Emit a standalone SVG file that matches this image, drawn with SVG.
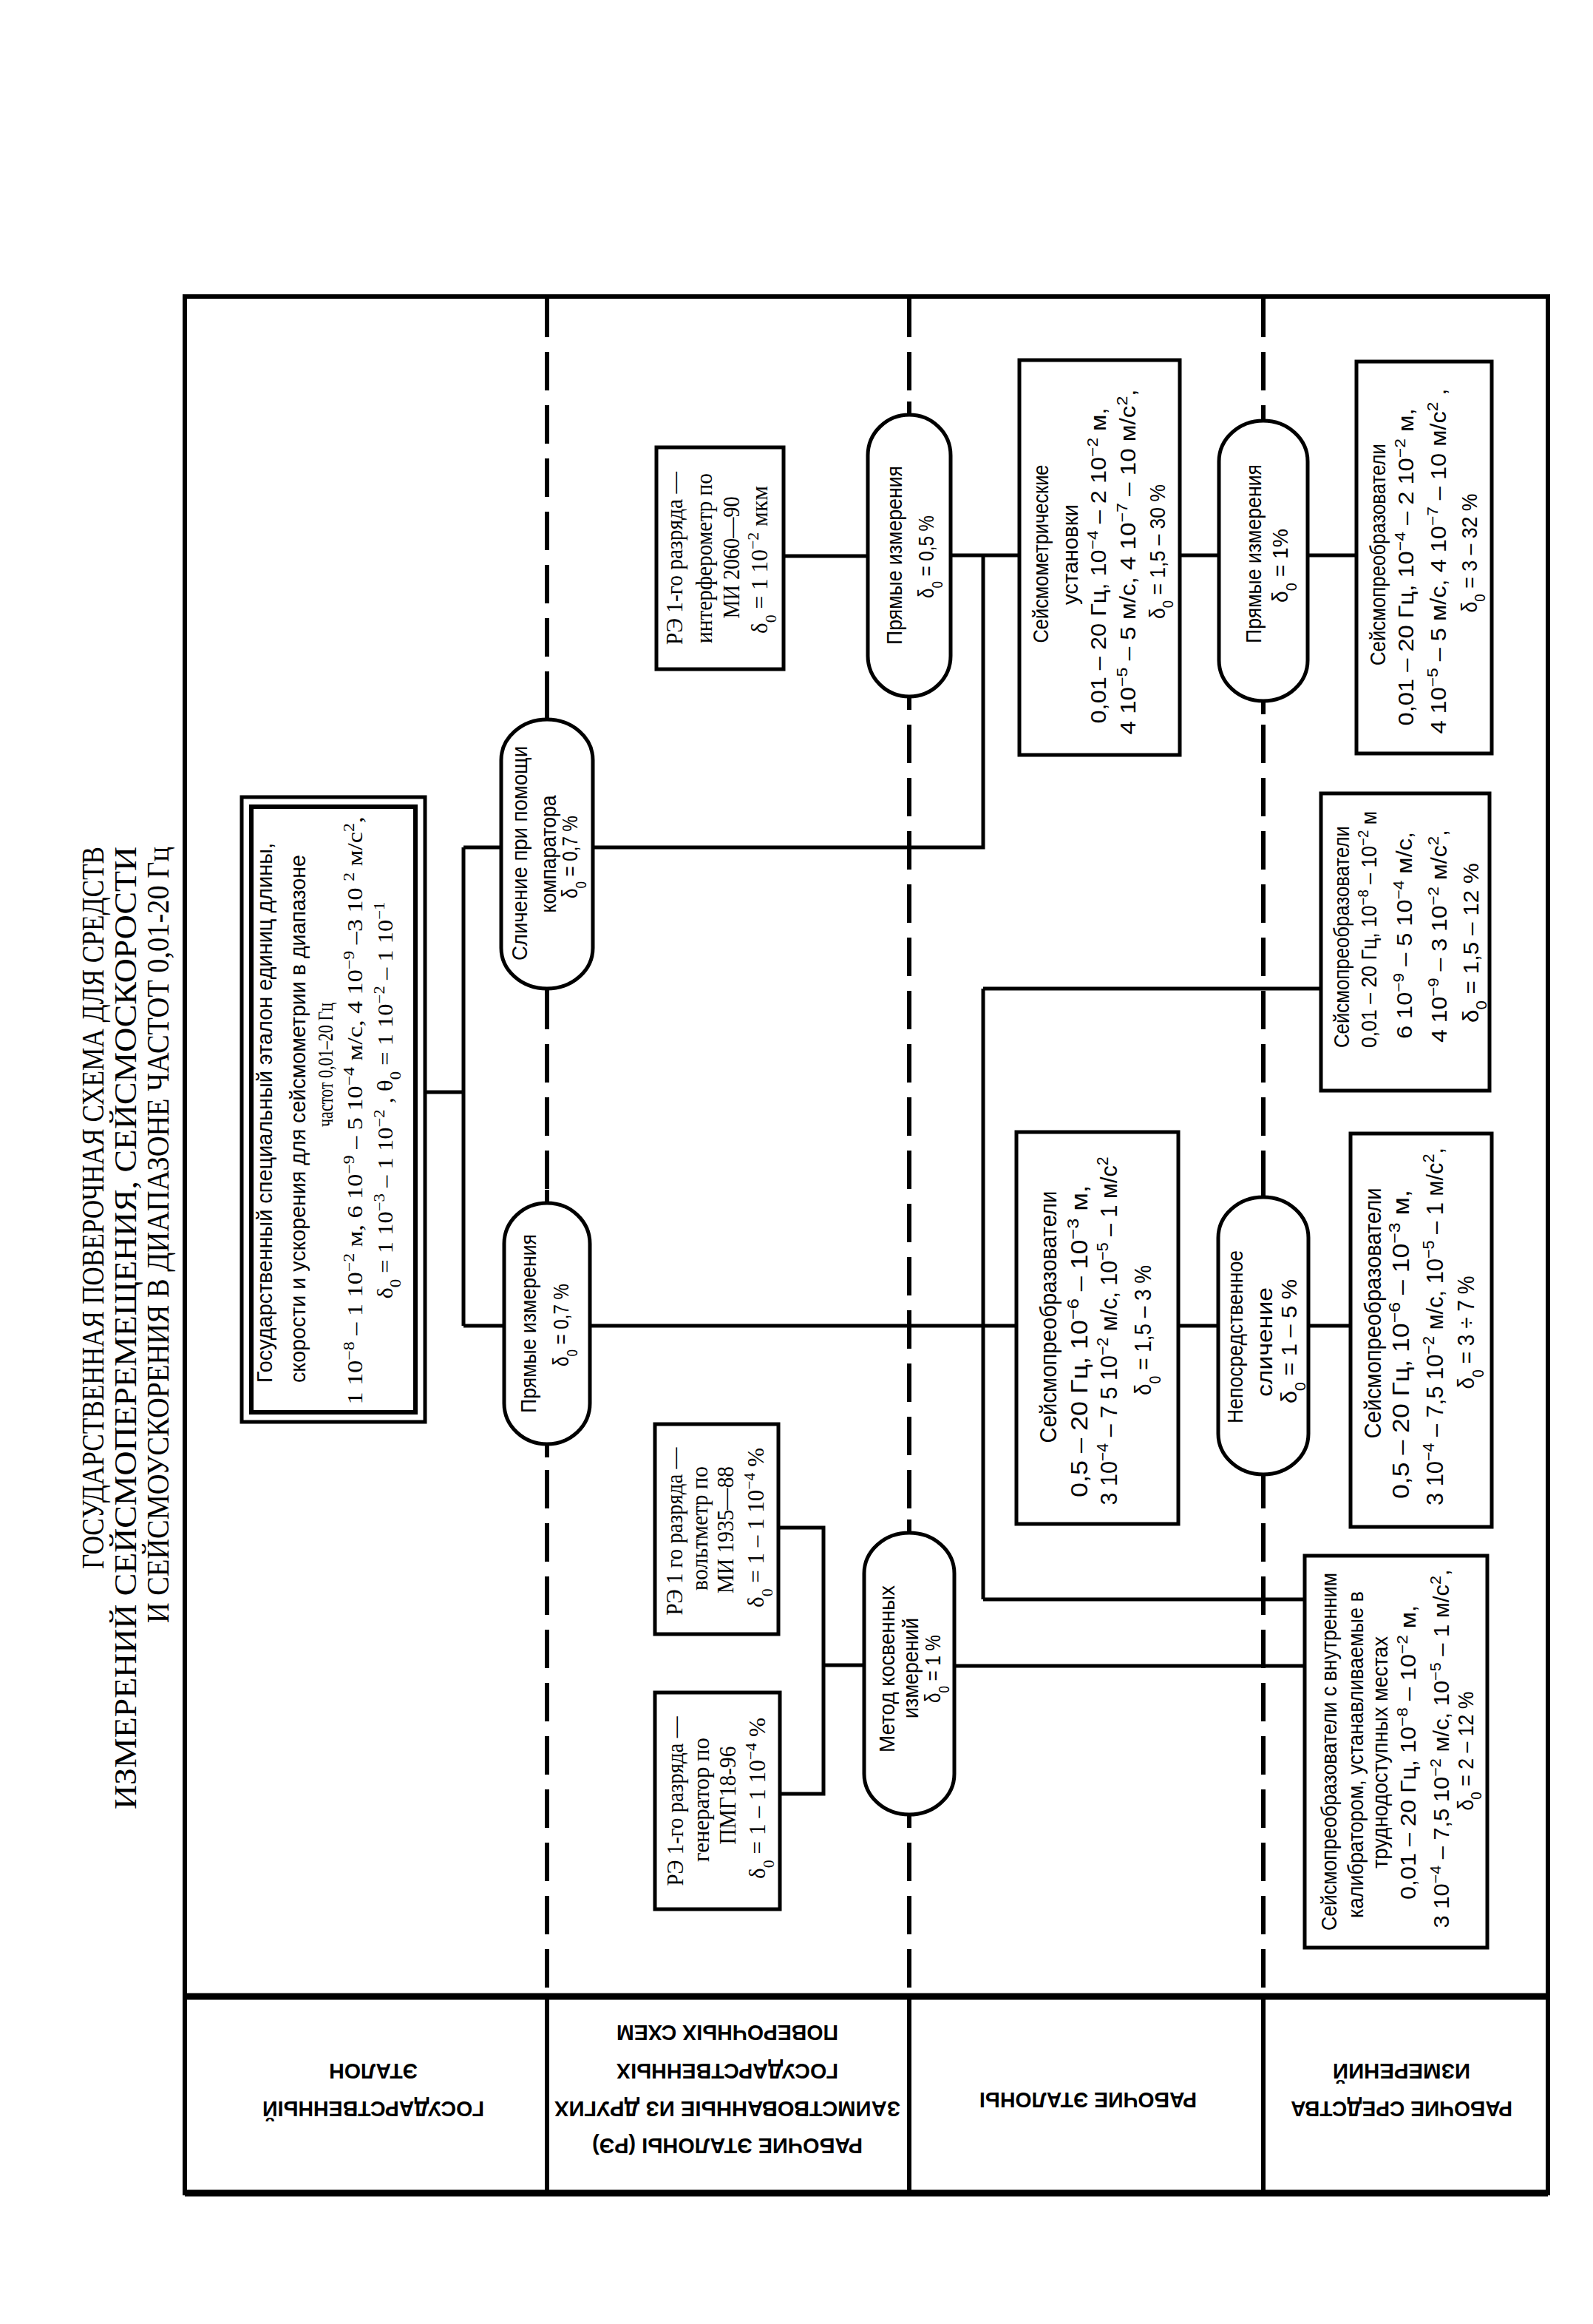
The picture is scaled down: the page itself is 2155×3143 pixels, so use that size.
<svg xmlns="http://www.w3.org/2000/svg" width="2155" height="3143" viewBox="0 0 2155 3143">
<style>
.t{font-family:"Liberation Sans",Arial,sans-serif;font-size:29px;text-anchor:middle;fill:#000}
.p{font-size:30px}
.L{font-size:31px}
.sf{font-family:"Liberation Serif","Times New Roman",serif;font-size:31px}
.ti{font-family:"Liberation Serif","Times New Roman",serif;font-size:42px;fill:#000}
.lb{font-family:"Liberation Sans",Arial,sans-serif;font-size:29px;font-weight:bold;text-anchor:middle;fill:#000}
.s{baseline-shift:super;font-size:70%}
.b{baseline-shift:sub;font-size:70%}
.box{fill:#fff;stroke:#000;stroke-width:5}
.pill{fill:#fff;stroke:#000;stroke-width:5}
.con{fill:none;stroke:#000;stroke-width:5}
.dash{fill:none;stroke:#000;stroke-width:6;stroke-dasharray:52 20}
.stub{fill:none;stroke:#000;stroke-width:6}
</style>
<rect width="2155" height="3143" fill="#fff"/>
<g id="title">
<text class="ti" transform="translate(140,2122) rotate(-90)" textLength="977" lengthAdjust="spacingAndGlyphs">ГОСУДАРСТВЕННАЯ ПОВЕРОЧНАЯ СХЕМА ДЛЯ СРЕДСТВ</text>
<text class="ti" transform="translate(184,2447) rotate(-90)" textLength="1302" lengthAdjust="spacingAndGlyphs">ИЗМЕРЕНИЙ СЕЙСМОПЕРЕМЕЩЕНИЯ, СЕЙСМОСКОРОСТИ</text>
<text class="ti" transform="translate(228,2195) rotate(-90)" textLength="1050" lengthAdjust="spacingAndGlyphs">И СЕЙСМОУСКОРЕНИЯ В ДИАПАЗОНЕ ЧАСТОТ 0,01-20 Гц</text>
</g>
<g id="frame">
<rect x="250" y="401" width="1844" height="2565" fill="none" stroke="#000" stroke-width="6"/>
<line x1="250" y1="2700" x2="2094" y2="2700" stroke="#000" stroke-width="9"/>
<line x1="250" y1="2966" x2="2094" y2="2966" stroke="#000" stroke-width="9"/>
<line x1="740" y1="2700" x2="740" y2="2966" stroke="#000" stroke-width="6"/>
<line x1="1230" y1="2700" x2="1230" y2="2966" stroke="#000" stroke-width="6"/>
<line x1="1709" y1="2700" x2="1709" y2="2966" stroke="#000" stroke-width="6"/>
</g>
<g id="band-labels">
<text class="lb" transform="translate(505,2842) rotate(180)" textLength="300" lengthAdjust="spacingAndGlyphs">ГОСУДАРСТВЕННЫЙ</text>
<text class="lb" transform="translate(505,2791) rotate(180)" textLength="120" lengthAdjust="spacingAndGlyphs">ЭТАЛОН</text>
<text class="lb" transform="translate(984,2892) rotate(180)" textLength="366" lengthAdjust="spacingAndGlyphs">РАБОЧИЕ ЭТАЛОНЫ (РЭ)</text>
<text class="lb" transform="translate(984,2842) rotate(180)" textLength="468" lengthAdjust="spacingAndGlyphs">ЗАИМСТВОВАННЫЕ ИЗ ДРУГИХ</text>
<text class="lb" transform="translate(984,2791) rotate(180)" textLength="300" lengthAdjust="spacingAndGlyphs">ГОСУДАРСТВЕННЫХ</text>
<text class="lb" transform="translate(984,2739) rotate(180)" textLength="300" lengthAdjust="spacingAndGlyphs">ПОВЕРОЧНЫХ СХЕМ</text>
<text class="lb" transform="translate(1472,2830) rotate(180)" textLength="294" lengthAdjust="spacingAndGlyphs">РАБОЧИЕ ЭТАЛОНЫ</text>
<text class="lb" transform="translate(1896,2842) rotate(180)" textLength="300" lengthAdjust="spacingAndGlyphs">РАБОЧИЕ СРЕДСТВА</text>
<text class="lb" transform="translate(1896,2791) rotate(180)" textLength="186" lengthAdjust="spacingAndGlyphs">ИЗМЕРЕНИЙ</text>
</g>
<g id="level-dividers">
<line class="dash" x1="740" y1="404" x2="740" y2="2696"/>
<line class="dash" x1="1230" y1="404" x2="1230" y2="2696"/>
<line class="dash" x1="1709" y1="404" x2="1709" y2="2696"/>
</g>
<g id="connectors">
<path class="con" d="M575,1477 H627 M627,1146 V1793 M627,1146 H678 M627,1793 H682"/>
<path class="con" d="M802,1146 H1330 V751"/>
<path class="con" d="M798,1793 H1375"/>
<path class="con" d="M1330,1337 V2163 M1330,1337 H1787 M1330,2163 H1765"/>
<path class="con" d="M1060,752 H1174 M1286,751 H1379 M1596,751 H1649 M1769,751 H1835"/>
<path class="con" d="M1594,1793 H1648 M1770,1793 H1827"/>
<path class="con" d="M1053,2066 H1114 V2426 H1055 M1114,2252 H1169"/>
<path class="con" d="M1291,2253 H1765"/>
</g>
<g id="state-standard">
<rect x="327" y="1078" width="248" height="845" fill="#fff" stroke="#000" stroke-width="5"/>
<rect x="340" y="1091" width="222" height="819" fill="none" stroke="#000" stroke-width="6"/>
<text class="t" transform="translate(368,1505) rotate(-90)" textLength="730" lengthAdjust="spacingAndGlyphs">Государственный специальный эталон единиц длины,</text>
<text class="t" transform="translate(413,1513) rotate(-90)" textLength="714" lengthAdjust="spacingAndGlyphs">скорости и ускорения для сейсмометрии в диапазоне</text>
<text class="t sf" style="font-size:29px" transform="translate(450,1440) rotate(-90)" textLength="168" lengthAdjust="spacingAndGlyphs">частот 0,01–20 Гц</text>
<text class="t sf" style="font-size:29px" transform="translate(490,1502) rotate(-90)" textLength="795" lengthAdjust="spacingAndGlyphs">1 10<tspan class="s">−8</tspan> – 1 10<tspan class="s">−2</tspan> м, 6 10<tspan class="s">−9</tspan> – 5 10<tspan class="s">−4</tspan> м/с, 4 10<tspan class="s">−9</tspan> –3 10 <tspan class="s">2</tspan> м/с<tspan class="s">2</tspan>,</text>
<text class="t sf" style="font-size:29px" transform="translate(531,1488) rotate(-90)" textLength="537" lengthAdjust="spacingAndGlyphs">δ<tspan class="b">0</tspan> = 1 10<tspan class="s">−3</tspan> – 1 10<tspan class="s">−2</tspan> , θ<tspan class="b">0</tspan> = 1 10<tspan class="s">−2</tspan> – 1 10<tspan class="s">−1</tspan></text>
</g>
<g id="pill-slichenie">
<rect class="pill" x="678" y="973" width="124" height="364" rx="62" ry="55"/>
<line class="stub" x1="740" y1="955" x2="740" y2="973"/><line class="stub" x1="740" y1="1337" x2="740" y2="1355"/>
<text class="t p" transform="translate(713,1154) rotate(-90)" textLength="290" lengthAdjust="spacingAndGlyphs">Сличение при помощи</text>
<text class="t p" transform="translate(752,1155) rotate(-90)" textLength="159" lengthAdjust="spacingAndGlyphs">компаратора</text>
<text class="t p" transform="translate(781,1159) rotate(-90)" textLength="112" lengthAdjust="spacingAndGlyphs">δ<tspan class="b">0</tspan> = 0,7 %</text>
</g>
<g id="pill-pryamye-07">
<rect class="pill" x="682" y="1627" width="116" height="326" rx="58" ry="55"/>
<line class="stub" x1="740" y1="1609" x2="740" y2="1627"/><line class="stub" x1="740" y1="1953" x2="740" y2="1971"/>
<text class="t p" transform="translate(725,1790) rotate(-90)" textLength="242" lengthAdjust="spacingAndGlyphs">Прямые измерения</text>
<text class="t p" transform="translate(769,1792) rotate(-90)" textLength="112" lengthAdjust="spacingAndGlyphs">δ<tspan class="b">0</tspan> = 0,7 %</text>
</g>
<g id="re-interferometer">
<rect class="box" x="888" y="605" width="172" height="300"/>
<text class="t sf" transform="translate(923,755) rotate(-90)" textLength="234" lengthAdjust="spacingAndGlyphs">РЭ 1-го разряда —</text>
<text class="t sf" transform="translate(963,755) rotate(-90)" textLength="230" lengthAdjust="spacingAndGlyphs">интерферометр по</text>
<text class="t sf" transform="translate(1000,754) rotate(-90)" textLength="165" lengthAdjust="spacingAndGlyphs">МИ 2060—90</text>
<text class="t sf" transform="translate(1038,757) rotate(-90)" textLength="200" lengthAdjust="spacingAndGlyphs">δ<tspan class="b">0</tspan> = 1 10<tspan class="s">−2</tspan> мкм</text>
</g>
<g id="re-voltmeter">
<rect class="box" x="886" y="1926" width="167" height="284"/>
<text class="t sf" transform="translate(923,2071) rotate(-90)" textLength="227" lengthAdjust="spacingAndGlyphs">РЭ 1 го разряда —</text>
<text class="t sf" transform="translate(957,2067) rotate(-90)" textLength="168" lengthAdjust="spacingAndGlyphs">вольтметр по</text>
<text class="t sf" transform="translate(992,2069) rotate(-90)" textLength="172" lengthAdjust="spacingAndGlyphs">МИ 1935—88</text>
<text class="t sf" transform="translate(1033,2066) rotate(-90)" textLength="216" lengthAdjust="spacingAndGlyphs">δ<tspan class="b">0</tspan> = 1 – 1 10<tspan class="s">−4</tspan> %</text>
</g>
<g id="re-generator">
<rect class="box" x="886" y="2289" width="169" height="293"/>
<text class="t sf" transform="translate(924,2436) rotate(-90)" textLength="229" lengthAdjust="spacingAndGlyphs">РЭ 1-го разряда —</text>
<text class="t sf" transform="translate(959,2434) rotate(-90)" textLength="168" lengthAdjust="spacingAndGlyphs">генератор по</text>
<text class="t sf" transform="translate(995,2428) rotate(-90)" textLength="133" lengthAdjust="spacingAndGlyphs">ПМГ18-96</text>
<text class="t sf" transform="translate(1035,2432) rotate(-90)" textLength="218" lengthAdjust="spacingAndGlyphs">δ<tspan class="b">0</tspan> = 1 – 1 10<tspan class="s">−4</tspan> %</text>
</g>
<g id="pill-pryamye-05">
<rect class="pill" x="1174" y="561" width="112" height="381" rx="56" ry="55"/>
<line class="stub" x1="1230" y1="543" x2="1230" y2="561"/><line class="stub" x1="1230" y1="942" x2="1230" y2="960"/>
<text class="t p" transform="translate(1220,751) rotate(-90)" textLength="242" lengthAdjust="spacingAndGlyphs">Прямые измерения</text>
<text class="t p" transform="translate(1263,753) rotate(-90)" textLength="112" lengthAdjust="spacingAndGlyphs">δ<tspan class="b">0</tspan> = 0,5 %</text>
</g>
<g id="pill-kosvennye">
<rect class="pill" x="1169" y="2073" width="122" height="381" rx="61" ry="55"/>
<line class="stub" x1="1230" y1="2055" x2="1230" y2="2073"/><line class="stub" x1="1230" y1="2454" x2="1230" y2="2472"/>
<text class="t p" transform="translate(1210,2257) rotate(-90)" textLength="226" lengthAdjust="spacingAndGlyphs">Метод косвенных</text>
<text class="t p" transform="translate(1242,2256) rotate(-90)" textLength="136" lengthAdjust="spacingAndGlyphs">измерений</text>
<text class="t p" transform="translate(1272,2257) rotate(-90)" textLength="92" lengthAdjust="spacingAndGlyphs">δ<tspan class="b">0</tspan> = 1 %</text>
</g>
<g id="box-ustanovki">
<rect class="box" x="1379" y="487" width="217" height="534"/>
<text class="t" transform="translate(1418,749) rotate(-90)" textLength="241" lengthAdjust="spacingAndGlyphs">Сейсмометрические</text>
<text class="t" transform="translate(1458,750) rotate(-90)" textLength="136" lengthAdjust="spacingAndGlyphs">установки</text>
<text class="t" transform="translate(1496,765) rotate(-90)" textLength="427" lengthAdjust="spacingAndGlyphs">0,01 – 20 Гц, 10<tspan class="s">−4</tspan> – 2 10<tspan class="s">−2</tspan> м,</text>
<text class="t" transform="translate(1536,760) rotate(-90)" textLength="467" lengthAdjust="spacingAndGlyphs">4 10<tspan class="s">−5</tspan> – 5 м/с, 4 10<tspan class="s">−7</tspan> – 10 м/с<tspan class="s">2</tspan>,</text>
<text class="t" transform="translate(1576,746) rotate(-90)" textLength="182" lengthAdjust="spacingAndGlyphs">δ<tspan class="b">0</tspan> = 1,5 – 30 %</text>
</g>
<g id="box-seismo-i">
<rect class="box" x="1375" y="1531" width="219" height="530"/>
<text class="t L" transform="translate(1429,1781) rotate(-90)" textLength="341" lengthAdjust="spacingAndGlyphs">Сейсмопреобразователи</text>
<text class="t L" transform="translate(1471,1814) rotate(-90)" textLength="422" lengthAdjust="spacingAndGlyphs">0,5 – 20 Гц, 10<tspan class="s">−6</tspan> – 10<tspan class="s">−3</tspan> м,</text>
<text class="t L" transform="translate(1511,1800) rotate(-90)" textLength="471" lengthAdjust="spacingAndGlyphs">3 10<tspan class="s">−4</tspan> – 7 5 10<tspan class="s">−2</tspan> м/с, 10<tspan class="s">−5</tspan> – 1 м/с<tspan class="s">2</tspan></text>
<text class="t L" transform="translate(1557,1799) rotate(-90)" textLength="176" lengthAdjust="spacingAndGlyphs">δ<tspan class="b">0</tspan> = 1,5 – 3 %</text>
</g>
<g id="pill-pryamye-1">
<rect class="pill" x="1649" y="569" width="120" height="379" rx="60" ry="55"/>
<line class="stub" x1="1709" y1="551" x2="1709" y2="569"/><line class="stub" x1="1709" y1="948" x2="1709" y2="966"/>
<text class="t p" transform="translate(1706,749) rotate(-90)" textLength="242" lengthAdjust="spacingAndGlyphs">Прямые измерения</text>
<text class="t p" transform="translate(1742,765) rotate(-90)" textLength="100" lengthAdjust="spacingAndGlyphs">δ<tspan class="b">0</tspan> = 1%</text>
</g>
<g id="pill-neposredstvennoe">
<rect class="pill" x="1648" y="1619" width="122" height="375" rx="61" ry="55"/>
<line class="stub" x1="1709" y1="1601" x2="1709" y2="1619"/><line class="stub" x1="1709" y1="1994" x2="1709" y2="2012"/>
<text class="t p" transform="translate(1681,1808) rotate(-90)" textLength="234" lengthAdjust="spacingAndGlyphs">Непосредственное</text>
<text class="t p" transform="translate(1721,1815) rotate(-90)" textLength="148" lengthAdjust="spacingAndGlyphs">сличение</text>
<text class="t p" transform="translate(1754,1814) rotate(-90)" textLength="168" lengthAdjust="spacingAndGlyphs">δ<tspan class="b">0</tspan> = 1 – 5 %</text>
</g>
<g id="box-seismo-o">
<rect class="box" x="1835" y="489" width="183" height="530"/>
<text class="t" transform="translate(1874,750) rotate(-90)" textLength="300" lengthAdjust="spacingAndGlyphs">Сейсмопреобразователи</text>
<text class="t" transform="translate(1912,767) rotate(-90)" textLength="429" lengthAdjust="spacingAndGlyphs">0,01 – 20 Гц, 10<tspan class="s">−4</tspan> – 2 10<tspan class="s">−2</tspan> м,</text>
<text class="t" transform="translate(1956,759) rotate(-90)" textLength="467" lengthAdjust="spacingAndGlyphs">4 10<tspan class="s">−5</tspan> – 5 м/с, 4 10<tspan class="s">−7</tspan> – 10 м/с<tspan class="s">2</tspan> ,</text>
<text class="t" transform="translate(1998,748) rotate(-90)" textLength="161" lengthAdjust="spacingAndGlyphs">δ<tspan class="b">0</tspan> = 3 – 32 %</text>
</g>
<g id="box-seismo-n">
<rect class="box" x="1787" y="1073" width="228" height="402"/>
<text class="t" transform="translate(1825,1267) rotate(-90)" textLength="300" lengthAdjust="spacingAndGlyphs">Сейсмопреобразователи</text>
<text class="t" transform="translate(1862,1257) rotate(-90)" textLength="320" lengthAdjust="spacingAndGlyphs">0,01 – 20 Гц, 10<tspan class="s">−8</tspan> – 10<tspan class="s">−2</tspan> м</text>
<text class="t" transform="translate(1910,1265) rotate(-90)" textLength="280" lengthAdjust="spacingAndGlyphs">6 10<tspan class="s">−9</tspan> – 5 10<tspan class="s">−4</tspan> м/с,</text>
<text class="t" transform="translate(1957,1266) rotate(-90)" textLength="288" lengthAdjust="spacingAndGlyphs">4 10<tspan class="s">−9</tspan> – 3 10<tspan class="s">−2</tspan> м/с<tspan class="s">2</tspan>,</text>
<text class="t" transform="translate(2000,1275) rotate(-90)" textLength="216" lengthAdjust="spacingAndGlyphs">δ<tspan class="b">0</tspan> = 1,5 – 12 %</text>
</g>
<g id="box-seismo-m">
<rect class="box" x="1827" y="1533" width="191" height="532"/>
<text class="t L" transform="translate(1868,1776) rotate(-90)" textLength="339" lengthAdjust="spacingAndGlyphs">Сейсмопреобразователи</text>
<text class="t L" transform="translate(1906,1818) rotate(-90)" textLength="418" lengthAdjust="spacingAndGlyphs">0,5 – 20 Гц, 10<tspan class="s">−6</tspan> – 10<tspan class="s">−3</tspan> м,</text>
<text class="t L" transform="translate(1952,1794) rotate(-90)" textLength="484" lengthAdjust="spacingAndGlyphs">3 10<tspan class="s">−4</tspan> – 7,5 10<tspan class="s">−2</tspan> м/с, 10<tspan class="s">−5</tspan> – 1 м/с<tspan class="s">2</tspan>,</text>
<text class="t L" transform="translate(1994,1802) rotate(-90)" textLength="153" lengthAdjust="spacingAndGlyphs">δ<tspan class="b">0</tspan> = 3 ÷ 7 %</text>
</g>
<g id="box-seismo-l">
<rect class="box" x="1765" y="2104" width="247" height="530"/>
<text class="t" transform="translate(1808,2369) rotate(-90)" textLength="484" lengthAdjust="spacingAndGlyphs">Сейсмопреобразователи с внутренним</text>
<text class="t" transform="translate(1844,2373) rotate(-90)" textLength="442" lengthAdjust="spacingAndGlyphs">калибратором, устанавливаемые в</text>
<text class="t" transform="translate(1877,2370) rotate(-90)" textLength="314" lengthAdjust="spacingAndGlyphs">труднодоступных местах</text>
<text class="t" transform="translate(1915,2370) rotate(-90)" textLength="398" lengthAdjust="spacingAndGlyphs">0,01 – 20 Гц, 10<tspan class="s">−8</tspan> – 10<tspan class="s">−2</tspan> м,</text>
<text class="t" transform="translate(1960,2365) rotate(-90)" textLength="485" lengthAdjust="spacingAndGlyphs">3 10<tspan class="s">−4</tspan> – 7,5 10<tspan class="s">−2</tspan> м/с, 10<tspan class="s">−5</tspan> – 1 м/с<tspan class="s">2</tspan>,</text>
<text class="t" transform="translate(1993,2368) rotate(-90)" textLength="161" lengthAdjust="spacingAndGlyphs">δ<tspan class="b">0</tspan> = 2 – 12 %</text>
</g>
</svg>
